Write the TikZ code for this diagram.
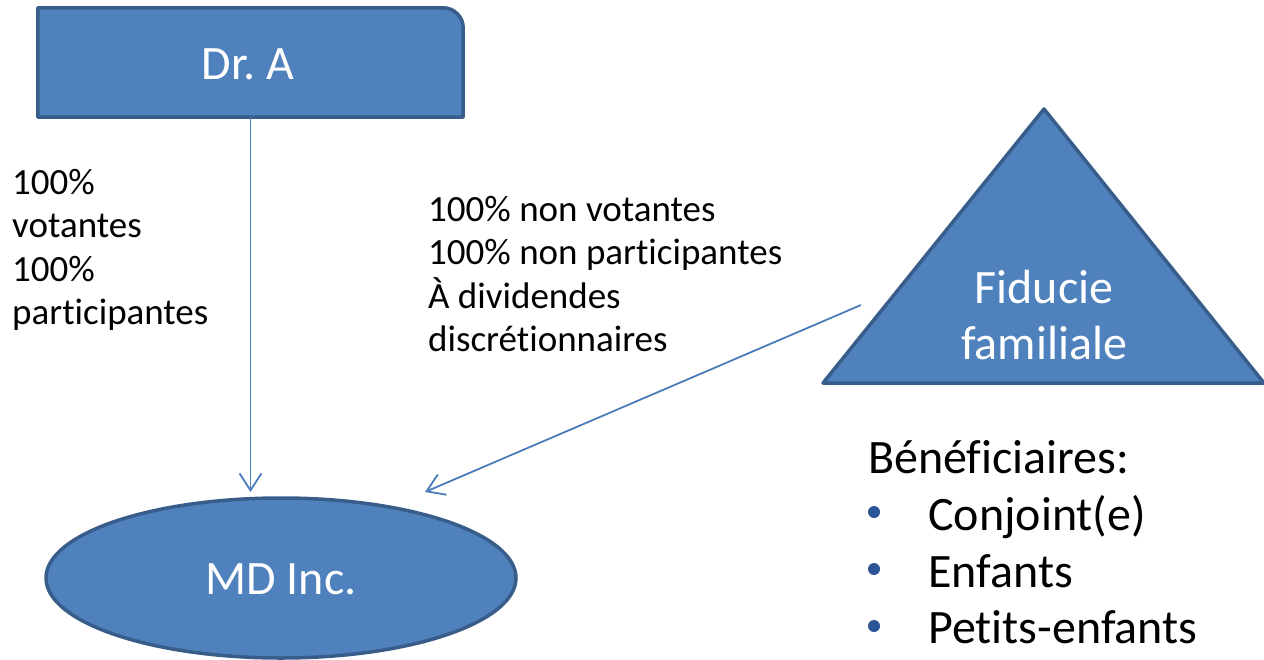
\documentclass[tikz,border=0pt]{standalone}
\usepackage{fontspec}
\setmainfont{Carlito}[Ligatures={NoCommon}]
\usetikzlibrary{arrows.meta,shapes.geometric}
\definecolor{fillblue}{HTML}{4F81BD}
\definecolor{edgeblue}{HTML}{385D8A}
\definecolor{linkblue}{HTML}{4A7EBB}
\definecolor{bulletblue}{HTML}{2C5597}
\frenchspacing
\newcommand\leftstack[1]{\vtop{\halign{##\hfil\cr #1\crcr}}}
\newcommand\centerstack[1]{\vtop{\halign{\hfil##\hfil\cr #1\crcr}}}
\begin{document}
\begin{tikzpicture}[x=1pt,y=-1pt,
  shapeline/.style={draw=edgeblue, line width=3.5pt, fill=fillblue, line join=round},
  shapetext/.style={text=white, font=\fontsize{48}{56}\selectfont},
  labeltext/.style={text=black, font=\fontsize{37}{43.5}\selectfont, inner sep=0pt},
  listtext/.style={text=black, font=\fontsize{48}{57}\selectfont, inner sep=0pt},
  link/.style={draw=linkblue, line width=1.8pt, -{Straight Barb[length=17pt,width=22pt,line width=1.8pt]}},
  bulletdot/.style={circle, fill=bulletblue, inner sep=0pt, minimum size=12pt}]
\useasboundingbox (0,0) rectangle (1264,659);

% Dr. A box
\node[minimum width=425pt, minimum height=109pt, inner sep=0pt] (dra) at (250.5,62.5) {};
\draw[shapeline] (dra.south west) -- (dra.north west) -- ([xshift=-20pt]dra.north east)
  .. controls ([xshift=-9pt]dra.north east) and ([yshift=-9pt]dra.north east) .. ([yshift=-20pt]dra.north east)
  -- (dra.south east) -- cycle;
\node[shapetext, anchor=base] (dralabel) at (248,79) {Dr. A};

% MD Inc. ellipse
\node[ellipse, shapeline, shapetext, minimum width=470pt, minimum height=160pt, inner sep=0pt] (md) at (281,578) {};
\node[shapetext, anchor=base] (mdlabel) at (281,594) {MD Inc.};

% Triangle
\coordinate (apex) at (1044,109);
\coordinate (bl) at (823,383);
\coordinate (br) at (1264,383);
\draw[shapeline] (apex) -- (br) -- (bl) -- cycle;
\node[shapetext, anchor=base, inner sep=0pt] (fid) at (1044,303) {\centerstack{Fiducie\cr familiale}};

% Labels
\node[labeltext, anchor=base west] (leftlab) at (12,194) {\leftstack{100\%\cr votantes\cr 100\%\cr participantes}};
\node[labeltext, anchor=base west] (midlab) at (428,221) {\leftstack{100\% non votantes\cr 100\% non participantes\cr À dividendes\cr discrétionnaires}};

% Connectors
\coordinate (tipA) at (250.5,492);
\coordinate (fstart) at (861,305);
\coordinate (tipB) at (425,492);
\draw[link] (dra.south) -- (tipA);
\draw[link] (fstart) -- (tipB);

% Beneficiaries
\node[listtext, anchor=base west] (benef) at (868,473) {Bénéficiaires:};
\node[bulletdot] (b1) at (874,512) {};
\node[bulletdot] (b2) at (874,569) {};
\node[bulletdot] (b3) at (874,626) {};
\node[listtext, anchor=base west] (l1) at (928,530) {Conjoint(e)};
\node[listtext, anchor=base west] (l2) at (928,587) {Enfants};
\node[listtext, anchor=base west] (l3) at (928,643) {Petits-enfants};
\end{tikzpicture}
\end{document}
